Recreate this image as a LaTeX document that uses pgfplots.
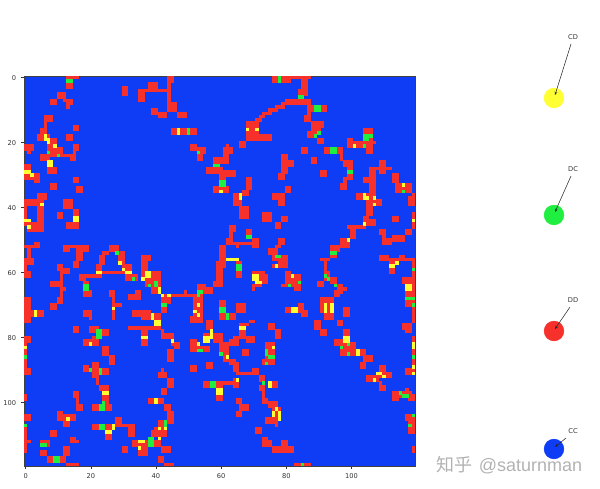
\documentclass[border=0pt]{standalone}
\usepackage{fontspec}
\setmainfont{DejaVu Sans}
\newfontfamily\cjk{Noto Sans CJK SC}
\newfontfamily\wm{Liberation Sans}
\usepackage{pgfplots}
\usepackage{pgfplotstable}
\pgfplotsset{compat=1.18}
\usetikzlibrary{arrows.meta}
\definecolor{cc}{HTML}{0F3CF5}
\definecolor{dd}{HTML}{F6302A}
\definecolor{cd}{HTML}{FFFF33}
\definecolor{dc}{HTML}{20EE40}
% one block of cells: top left cell at the point, w cells wide, h cells high
\pgfdeclareplotmark{cell}{%
  \pgfpathrectangle{\pgfpoint{-1.24pt}{1.24pt}}%
    {\pgfpoint{\cellw*2.444pt+0.04pt}{-\cellh*2.4375pt-0.04pt}}%
  \pgfusepathqfill}
\pgfplotsset{blockplot/.style={
  only marks, scatter, mark=cell, scatter src=x,
  scatter/use mapped color={fill=#1},
  visualization depends on={\thisrow{w}\as\cellw},
  visualization depends on={\thisrow{h}\as\cellh}},
  pagebox/.style={
    at={(0,0)}, anchor=south west,
    scale only axis, width=450pt, height=366.75pt,
    xmin=0, xmax=600, ymin=0, ymax=489, y dir=reverse,
    hide axis, clip=false},
  dot/.style={only marks, mark=*, mark size=7.4pt,
    mark options={draw=#1, fill=#1}}}
\pgfplotstableread{
c r w h
13 0 4 1
13 1 2 3
10 5 3 2
8 7 2 2
12 7 3 1
13 8 2 1
13 9 1 1
30 3 2 3
35 4 2 4
35 4 10 1
38 2 3 2
44 0 2 2
44 2 1 6
44 8 3 3
39 10 2 2
41 11 3 2
47 11 3 2
45 16 8 2
6 12 3 2
6 14 1 2
5 16 2 2
4 18 3 2
15 15 2 2
13 18 2 2
6 18 2 2
7 19 3 2
7 21 2 3
9 21 1 1
9 22 3 2
5 24 3 2
8 24 8 1
14 25 2 1
15 21 2 2
15 23 1 1
0 21 3 2
1 23 1 1
7 26 2 2
7 28 3 2
0 27 2 2
0 29 2 1
0 30 3 2
3 30 2 3
15 31 2 2
16 34 2 2
8 33 2 2
4 36 3 2
0 38 6 2
12 38 3 3
51 21 2 2
53 22 3 2
53 24 2 2
62 21 1 1
61 22 3 2
61 24 2 1
58 25 5 2
58 27 2 1
56 28 5 2
60 29 5 2
60 31 2 3
58 34 5 2
64 36 3 4
67 35 2 2
68 31 2 4
66 20 2 2
68 14 4 6
68 18 8 2
71 13 2 1
72 12 2 1
73 11 3 1
75 10 3 1
77 9 3 1
79 8 5 1
80 7 8 1
84 8 4 1
76 0 12 1
76 1 6 1
85 1 2 5
84 4 2 2
84 6 2 1
87 9 2 2
89 9 4 2
87 11 1 1
86 12 2 2
88 14 4 2
88 16 3 1
87 17 3 2
90 19 2 2
85 22 2 2
92 22 6 2
97 24 1 2
98 26 3 2
99 28 2 4
98 31 1 2
97 33 2 2
88 25 2 2
91 29 2 2
79 24 2 6
81 26 2 2
78 30 2 2
80 34 2 2
78 37 2 3
104 16 3 4
99 19 2 1
99 20 9 1
99 21 8 1
105 22 2 2
109 26 2 2
106 28 7 1
109 27 2 3
106 29 2 1
106 30 2 6
104 31 2 2
113 30 2 3
114 33 5 3
118 37 2 3
102 36 6 2
105 38 5 2
105 40 2 3
104 43 2 3
106 44 2 2
99 46 6 1
100 47 2 3
97 50 3 3
94 52 3 2
94 54 2 2
91 56 3 1
92 57 1 3
92 60 2 2
92 62 4 1
90 63 2 2
94 63 2 1
96 64 2 3
98 65 1 1
95 66 2 2
79 43 2 2
113 43 2 2
119 36 1 2
119 42 1 5
109 47 2 2
110 49 1 2
110 50 3 2
113 49 4 2
117 47 2 2
109 55 3 2
111 56 9 1
112 57 3 1
119 57 1 1
115 55 2 1
112 58 2 3
119 58 1 18
116 62 3 2
117 64 2 7
91 68 4 2
91 70 4 3
92 73 3 2
98 71 2 3
80 71 2 2
84 70 2 3
85 72 2 2
89 75 2 3
91 78 2 2
96 75 2 2
98 78 2 2
116 76 3 2
117 78 2 1
78 50 2 2
77 52 2 1
75 53 3 2
76 55 5 2
78 57 3 2
76 58 2 1
80 60 2 5
80 61 5 2
81 63 4 1
79 64 6 1
83 65 2 1
70 60 4 1
70 61 5 2
71 63 4 1
70 64 3 1
70 65 1 1
76 36 4 2
78 38 2 1
66 40 3 4
73 42 3 3
77 45 2 2
4 40 2 8
0 40 1 5
1 45 4 3
0 45 1 1
15 41 2 2
10 42 2 2
13 45 4 2
3 51 2 1
0 52 5 1
1 53 1 4
0 56 3 2
0 58 1 4
0 60 2 2
12 52 8 1
12 53 2 1
18 53 2 1
16 53 2 4
15 57 2 2
10 58 2 2
12 59 2 2
11 60 1 8
8 63 3 2
12 65 1 1
10 68 2 2
8 70 2 2
0 68 2 8
2 72 4 2
17 61 2 2
19 61 5 1
22 58 2 2
22 60 9 1
23 55 2 3
24 54 2 1
26 52 3 2
29 54 2 4
30 58 3 2
31 61 4 2
36 55 3 2
36 57 2 4
36 60 6 2
37 62 5 3
36 62 1 1
18 63 2 3
18 66 3 2
26 66 2 2
27 68 1 7
28 70 2 1
32 67 4 2
34 66 2 1
18 72 3 2
20 74 1 1
33 72 6 2
36 73 6 2
40 75 2 3
15 77 2 2
20 77 3 2
24 78 2 2
32 77 10 1
36 78 2 5
39 65 3 2
42 67 13 1
49 66 1 1
42 68 3 2
42 70 2 3
53 64 3 2
53 66 2 1
55 65 3 2
58 63 3 2
59 58 2 5
59 57 3 2
60 52 2 5
62 50 2 2
62 51 9 1
63 46 2 2
63 48 1 2
68 47 2 3
70 50 2 3
65 52 1 1
62 56 4 1
65 57 2 1
65 58 2 4
52 68 3 8
51 74 2 2
60 69 2 6
62 73 3 2
65 70 3 3
56 75 2 3
55 79 6 2
57 78 1 1
66 76 3 1
69 75 2 1
66 77 2 3
64 80 3 1
75 76 2 2
77 78 2 3
42 79 4 2
42 78 1 1
45 81 1 2
46 82 2 2
44 84 2 4
51 81 2 4
53 83 2 1
55 83 2 2
58 79 3 3
60 82 3 3
61 85 2 3
63 87 2 2
63 81 3 2
66 79 2 2
68 80 3 2
67 84 2 2
64 88 2 3
65 91 6 1
70 90 2 2
72 92 2 2
73 94 1 1
72 95 2 2
73 97 1 2
73 99 2 2
75 100 3 2
76 102 3 3
74 105 4 2
77 107 1 1
74 82 3 5
73 87 4 2
56 88 2 2
51 89 2 2
41 91 3 2
42 90 1 1
44 93 2 3
55 94 2 2
59 94 6 1
64 93 2 3
59 95 2 5
75 94 3 2
42 96 2 2
38 99 5 2
43 101 2 2
44 103 2 4
65 99 2 2
66 101 3 2
65 103 2 2
71 108 2 2
73 111 2 3
75 112 1 2
76 114 2 2
78 114 5 2
79 112 2 2
41 106 2 2
39 109 5 2
40 108 3 1
40 112 2 2
36 112 2 5
42 114 3 2
41 117 2 2
43 119 3 1
0 80 2 2
0 82 1 9
0 90 2 2
0 98 1 2
0 104 2 2
0 108 1 8
1 112 1 1
18 81 5 2
21 80 2 1
24 83 2 3
26 86 2 3
18 89 2 2
21 88 2 5
24 90 2 2
22 93 1 2
23 95 3 2
24 98 2 3
21 101 2 2
25 101 2 2
15 97 2 2
16 99 1 2
16 101 2 2
10 103 2 3
12 104 4 2
12 106 2 2
8 109 2 2
5 112 3 2
5 115 2 2
7 117 2 2
11 117 2 2
12 114 2 3
14 111 2 2
16 112 1 1
13 119 4 1
21 107 2 2
25 107 2 2
25 110 2 2
28 105 2 3
28 107 6 1
32 108 2 3
33 112 3 2
35 115 2 2
30 114 2 2
95 81 3 2
97 82 5 4
103 84 2 2
104 86 3 2
103 88 2 2
109 89 2 2
108 91 5 2
105 92 4 2
109 94 1 1
109 95 2 2
113 97 2 3
115 97 4 2
117 96 1 1
118 98 2 2
117 104 3 2
118 106 2 4
119 114 1 2
83 119 5 1
119 80 1 12
117 90 2 2
}\ddcells
\pgfplotstableread{
c r w h
13 1 2 1
50 16 1 2
53 23 1 1
58 27 2 1
60 32 2 2
78 0 1 2
84 6 2 1
89 9 2 2
90 17 1 1
89 18 1 1
94 22 2 2
99 29 2 1
104 18 2 2
106 18 1 1
104 21 1 1
116 35 1 1
7 23 1 1
10 24 1 1
28 54 1 1
33 62 1 1
38 64 1 1
40 63 1 2
18 64 2 2
22 78 2 3
42 70 2 1
53 66 2 1
53 67 1 1
68 49 2 1
65 58 2 2
60 71 2 2
62 73 1 2
77 55 1 1
78 55 1 1
81 64 1 1
84 63 1 1
94 54 2 1
92 61 1 1
93 62 1 1
95 64 1 1
119 59 1 1
117 68 3 1
119 70 1 1
0 86 1 1
20 90 1 1
23 90 1 2
24 100 1 1
23 101 2 2
0 107 1 1
23 107 2 2
38 112 1 2
5 113 2 1
9 117 2 2
53 84 2 1
60 85 1 1
74 84 1 2
75 86 2 1
74 88 1 1
57 94 2 2
73 94 1 1
43 106 1 3
38 111 2 3
99 82 1 1
97 83 1 1
99 85 1 1
119 86 1 1
115 97 1 1
116 98 2 1
119 104 1 1
118 107 1 1
85 119 1 1
}\dccells
\pgfplotstableread{
c r w h
47 16 1 2
66 36 1 2
60 35 1 1
68 16 1 1
71 16 1 1
101 21 1 1
116 33 1 1
104 36 1 2
105 37 1 1
107 37 1 1
107 39 1 1
6 18 1 2
7 19 1 2
9 21 1 1
7 26 2 2
0 29 2 1
2 30 1 1
5 39 1 1
0 44 2 1
1 46 1 1
15 43 2 2
3 72 1 2
22 60 2 1
29 57 1 1
30 59 1 1
31 60 2 1
36 62 1 1
37 60 2 2
27 71 1 1
41 65 1 2
42 67 1 1
44 67 1 1
39 73 1 2
40 75 2 2
36 80 2 1
53 70 1 1
52 72 1 1
53 73 1 1
62 56 4 1
70 61 2 2
71 63 2 1
77 58 1 1
82 61 1 1
92 70 1 3
94 70 1 3
82 71 2 2
104 45 1 1
99 50 1 1
119 44 1 1
114 57 1 1
112 58 2 1
117 64 2 2
66 77 2 1
0 83 1 1
20 82 1 1
24 97 2 1
13 105 1 1
27 107 1 2
25 109 2 1
35 112 1 1
35 114 1 1
57 78 1 2
55 80 2 2
57 80 1 1
53 82 1 1
45 81 1 1
62 86 1 1
76 83 1 1
65 93 1 1
59 96 2 2
75 94 1 2
40 99 1 2
36 112 1 1
41 108 1 1
43 108 1 1
41 111 1 1
77 102 1 1
76 103 1 2
78 103 1 3
98 80 2 2
102 84 1 2
108 91 2 1
110 92 1 1
107 93 1 1
119 82 1 2
119 89 1 1
119 91 1 1
}\cdcells
\begin{document}
\begin{tikzpicture}[font=\fontsize{5}{6}\selectfont]
  \useasboundingbox (0,0) rectangle (450pt,366.75pt);
  \begin{axis}[pagebox]
    \addplot[dot=cd] coordinates {(554,98)};
    \addplot[dot=dc] coordinates {(554,215)};
    \addplot[dot=dd] coordinates {(554,331)};
    \addplot[dot=cc] coordinates {(554,449)};
    \node[text=black!80] at (axis cs:573,37) {CD};
    \node[text=black!80] at (axis cs:573,169) {DC};
    \node[text=black!80] at (axis cs:573,300) {DD};
    \node[text=black!80] at (axis cs:573,431) {CC};
    \node[anchor=west,inner sep=0pt,text=black!30] at (axis cs:436,465)
      {\fontsize{13.5}{15}\selectfont\cjk 知乎\hspace{5pt}\wm @saturnman};
  \end{axis}
  \begin{axis}[
    at={(18pt,17.25pt)}, anchor=south west,
    scale only axis, width=293.25pt, height=292.5pt,
    xmin=-0.5, xmax=119.5, ymin=-0.5, ymax=119.5,
    y dir=reverse,
    xtick={0,20,...,100}, ytick={0,20,...,100},
    tick align=outside, tick pos=left,
    major tick length=2.4pt,
    tick style={black!80, line width=0.4pt},
    axis line style={black!75, line width=0.5pt},
    tick label style={font=\fontsize{5}{6}\selectfont, text=black!80, /pgf/number format/assume math mode=true},
    axis background/.style={fill=cc},
    axis on top,
    clip=true,
  ]
    \addplot[blockplot=dd] table[x=c,y=r] {\ddcells};
    \addplot[blockplot=dc] table[x=c,y=r] {\dccells};
    \addplot[blockplot=cd] table[x=c,y=r] {\cdcells};
  \end{axis}
  \begin{axis}[pagebox]
    \draw[-{Stealth[length=2.5pt,width=2pt]},line width=0.4pt,black!85] (axis cs:571,44) -- (axis cs:555,95);
    \draw[-{Stealth[length=2.5pt,width=2pt]},line width=0.4pt,black!85] (axis cs:571,176) -- (axis cs:555,212);
    \draw[-{Stealth[length=2.5pt,width=2pt]},line width=0.4pt,black!85] (axis cs:570,307) -- (axis cs:555,329);
    \draw[-{Stealth[length=2.5pt,width=2pt]},line width=0.4pt,black!85] (axis cs:566,438) -- (axis cs:555,447);
  \end{axis}
\end{tikzpicture}
\end{document}
